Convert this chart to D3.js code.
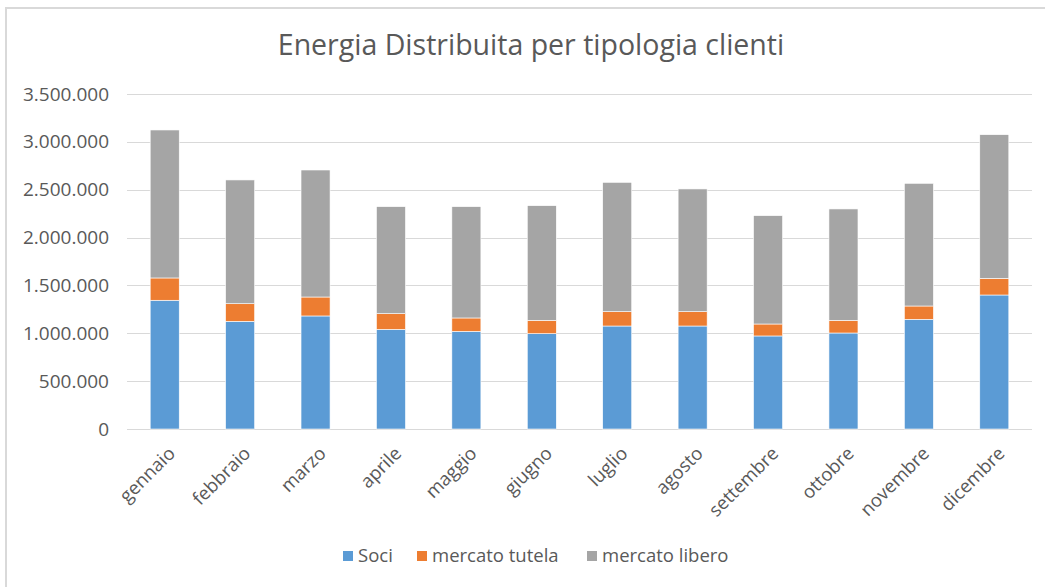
<!DOCTYPE html>
<html>
<head>
<meta charset="utf-8">
<script src="https://cdn.jsdelivr.net/npm/d3@7"></script>
<style>
    html, body { margin: 0; padding: 0; background: #fff; }
    svg { display: block; font-family: 'Open Sans', sans-serif; }
</style>
</head>
<body>
<div id="chart"></div>
<script>
const months = ['gennaio', 'febbraio', 'marzo', 'aprile', 'maggio', 'giugno',
    'luglio', 'agosto', 'settembre', 'ottobre', 'novembre', 'dicembre'];
const soci = [1345000, 1125000, 1181000, 1041000, 1020000, 996000,
    1076000, 1076000, 972000, 1003000, 1146000, 1400000];
const mercatoTutela = [233000, 184000, 198000, 164000, 140000, 139000,
    150000, 150000, 125000, 132000, 139000, 174000];
const mercatoLibero = [1546000, 1293000, 1327000, 1118000, 1163000, 1198000,
    1351000, 1282000, 1132000, 1164000, 1282000, 1501000];
const seriesNames = ['Soci', 'mercato tutela', 'mercato libero'];
const yTicks = [0, 500000, 1000000, 1500000, 2000000, 2500000, 3000000, 3500000];

const width = 1045, height = 587;
const margin = {top: 94, right: 13, bottom: 158, left: 127};
const colors = ['#5b9bd5', '#ed7d31', '#a5a5a5'];
const textColor = '#595959';

const svg = d3.select('#chart').append('svg')
    .attr('width', width)
    .attr('height', height);

// chart border (only top and left edges visible)
svg.append('path')
    .attr('d', `M6,${height} V8 H${width}`)
    .attr('fill', 'none')
    .attr('stroke', '#d9d9d9')
    .attr('stroke-width', 2);

const x = d3.scaleBand()
    .domain(months)
    .range([margin.left, width - margin.right])
    .paddingInner(0.615)
    .paddingOuter(0.3075);

const y = d3.scaleLinear()
    .domain([0, 3500000])
    .range([height - margin.bottom, margin.top]);

const it = d3.formatLocale({decimal: ',', thousands: '.', grouping: [3], currency: ['', '']});
const fmt = it.format(',');

// gridlines
svg.append('g')
    .selectAll('line')
    .data(yTicks)
    .enter()
    .append('line')
    .attr('x1', margin.left)
    .attr('x2', width - margin.right)
    .attr('y1', function (d) { return Math.round(y(d)) + 0.5; })
    .attr('y2', function (d) { return Math.round(y(d)) + 0.5; })
    .attr('stroke', '#d9d9d9')
    .attr('stroke-width', 1);

// y axis labels
const yAxis = svg.append('g')
    .attr('transform', `translate(${margin.left - 18},0)`)
    .call(d3.axisLeft(y).tickValues(yTicks).tickFormat(fmt).tickSize(0).tickPadding(0));
yAxis.select('.domain').remove();
yAxis.selectAll('text')
    .attr('fill', textColor)
    .style('font-size', '19px')
    .style('font-family', "'Open Sans', sans-serif");

// stacked data
const table = months.map(function (m, i) {
    return {month: m, s0: soci[i], s1: mercatoTutela[i], s2: mercatoLibero[i]};
});
const stack = d3.stack().keys(['s0', 's1', 's2']);
const layers = stack(table);

svg.append('g')
    .selectAll('g')
    .data(layers)
    .enter()
    .append('g')
    .attr('fill', function (d, i) { return colors[i]; })
    .selectAll('rect')
    .data(function (d) { return d; })
    .enter()
    .append('rect')
    .attr('x', function (d) { return x(d.data.month); })
    .attr('y', function (d) { return y(d[1]); })
    .attr('width', x.bandwidth())
    .attr('height', function (d) { return y(d[0]) - y(d[1]); })
    .attr('stroke', '#fff')
    .attr('stroke-width', 0.6);

// x labels, rotated
svg.append('g')
    .selectAll('text')
    .data(months)
    .enter()
    .append('text')
    .attr('transform', function (d) {
        const cx = x(d) + x.bandwidth() / 2 + 7;
        return `translate(${cx},${height - margin.bottom + 21}) rotate(-45)`;
    })
    .attr('text-anchor', 'end')
    .attr('dy', '0.35em')
    .attr('fill', textColor)
    .style('font-size', '18.5px')
    .text(function (d) { return d; });

// title
svg.append('text')
    .attr('x', 531)
    .attr('y', 55)
    .attr('text-anchor', 'middle')
    .attr('fill', textColor)
    .style('font-size', '28.5px')
    .text('Energia Distribuita per tipologia clienti');

// legend
const legendX = [343, 417, 587];
const legend = svg.append('g')
    .selectAll('g')
    .data(seriesNames)
    .enter()
    .append('g')
    .attr('transform', function (d, i) { return `translate(${legendX[i]},556)`; });

legend.append('rect')
    .attr('x', 0)
    .attr('y', -5)
    .attr('width', 10)
    .attr('height', 10)
    .attr('fill', function (d, i) { return colors[i]; });

legend.append('text')
    .attr('x', 15)
    .attr('dy', '0.35em')
    .attr('fill', textColor)
    .style('font-size', '18.5px')
    .text(function (d) { return d; });
</script>
</body>
</html>
